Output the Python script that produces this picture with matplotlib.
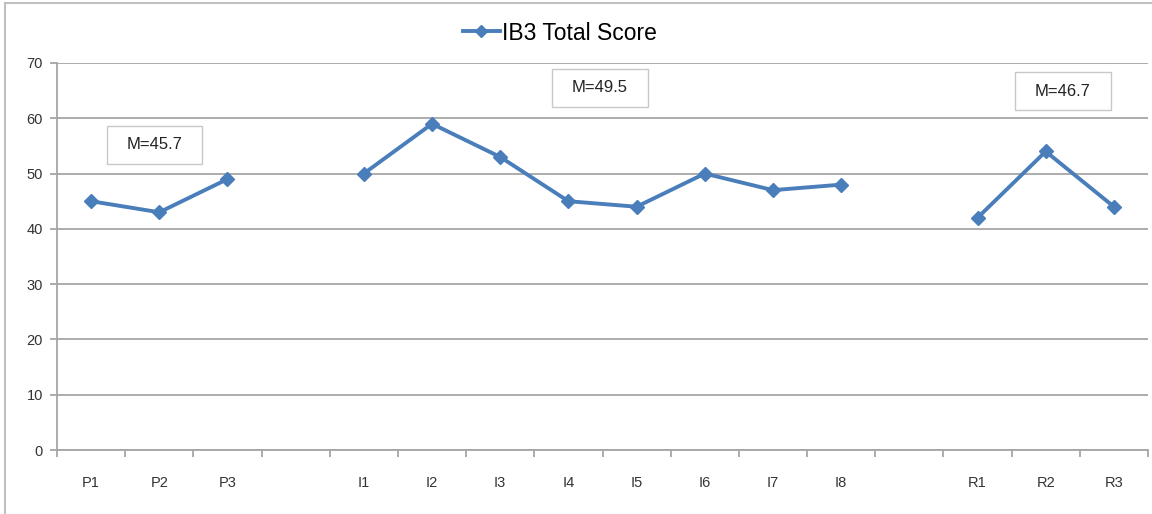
import numpy as np
import matplotlib.pyplot as plt
from matplotlib.lines import Line2D

# Data (blank categories separate the three groups)
categories = ["P1", "P2", "P3", "",
              "I1", "I2", "I3", "I4", "I5", "I6", "I7", "I8", "",
              "R1", "R2", "R3"]
scores = [45, 43, 49, np.nan,
          50, 59, 53, 45, 44, 50, 47, 48, np.nan,
          42, 54, 44]
mean_labels = ["M=45.7", "M=49.5", "M=46.7"]
mean_pos = [(0.93, 55.2), (7.46, 65.5), (14.25, 64.9)]

blue = "#4a7ebb"
gray = "#a6a6a6"

fig = plt.figure(figsize=(11.52, 5.14), dpi=100)
ax = fig.add_axes([57 / 1152, 1 - 450 / 514, (1148 - 57) / 1152, (450 - 63) / 514])

x = np.arange(len(categories))
ax.plot(x, scores, color=blue, lw=2.8, marker="D", markersize=7,
        label="IB3 Total Score", zorder=3)

ax.set_xlim(-0.5, len(categories) - 0.5)
ax.set_ylim(0, 70)
ax.set_yticks(range(0, 71, 10))
ax.grid(axis="y", color=gray, lw=1.3)
ax.set_axisbelow(True)

ax.set_xticks(x)
ax.set_xticklabels(categories, fontsize=10.5, color="#333333", family="Liberation Sans")
ax.set_xticks(np.arange(-0.5, len(categories)), minor=True)
ax.tick_params(axis="x", which="major", length=0, pad=19)
ax.tick_params(axis="x", which="minor", length=5, color=gray, width=1.3)
ax.tick_params(axis="y", length=5, color=gray, width=1.3, pad=5,
               labelsize=10.5, labelcolor="#333333")
for t in ax.get_yticklabels():
    t.set_family("Liberation Sans")

for s in ["top", "right"]:
    ax.spines[s].set_visible(False)
for s in ["left", "bottom"]:
    ax.spines[s].set_color(gray)
    ax.spines[s].set_linewidth(1.3)

for lab, (px, py) in zip(mean_labels, mean_pos):
    ax.text(px, py, lab, ha="center", va="center", fontsize=12, color="#222222",
            family="Liberation Sans",
            bbox=dict(boxstyle="square,pad=1.2", mutation_aspect=0.58,
                      fc="white", ec="#c8c8c8", lw=1))

handle = Line2D([], [], color=blue, lw=2.8, marker="D", markersize=6)
fig.legend([handle], ["IB3 Total Score"], loc="center", bbox_to_anchor=(560 / 1152, 1 - 33 / 514),
           frameon=False, prop={"family": "Liberation Sans", "size": 16.5},
           handlelength=1.6, handletextpad=0.1, borderaxespad=0)

# chart border
fig.add_artist(Line2D([5 / 1152, 5 / 1152], [0, 1 - 3 / 514], color="#c0c0c0", lw=1.5))
fig.add_artist(Line2D([5 / 1152, 1], [1 - 3 / 514, 1 - 3 / 514], color="#c0c0c0", lw=1.5))

fig.savefig("out.png", dpi=100, facecolor="white")
